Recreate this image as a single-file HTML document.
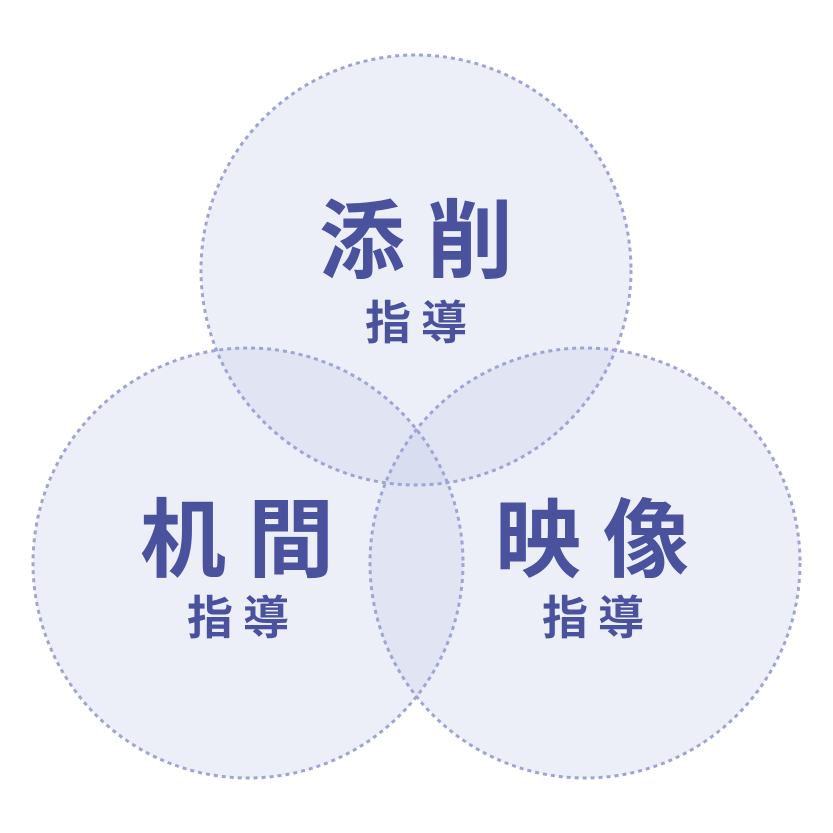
<!DOCTYPE html>
<html><head><meta charset="utf-8"><style>
body{margin:0;background:#fff;width:833px;height:833px;overflow:hidden}
svg{display:block}
text{font-family:"Liberation Sans","Noto Sans CJK JP",sans-serif;font-weight:bold;fill:#4a529e;text-anchor:middle}
.big{font-size:86px;letter-spacing:22px}
.sm{font-size:46px;letter-spacing:10px}
</style></head><body>
<svg width="833" height="833" viewBox="0 0 833 833">
<g fill="#c9cde9" fill-opacity="0.33">
<circle cx="416" cy="270" r="215"/>
<circle cx="248" cy="563" r="215"/>
<circle cx="585" cy="563" r="215"/>
</g>
<g fill="none" stroke="#9fa4d6" stroke-width="3" stroke-dasharray="4 4">
<circle cx="416" cy="270" r="215"/>
<circle cx="248" cy="563" r="215"/>
<circle cx="585" cy="563" r="215"/>
</g>
<text class="big" x="427" y="271">添削</text>
<text class="sm" x="421" y="339">指導</text>
<text class="big" x="248" y="570">机間</text>
<text class="sm" x="243" y="634">指導</text>
<text class="big" x="603" y="570">映像</text>
<text class="sm" x="598" y="634">指導</text>
</svg>
</body></html>
